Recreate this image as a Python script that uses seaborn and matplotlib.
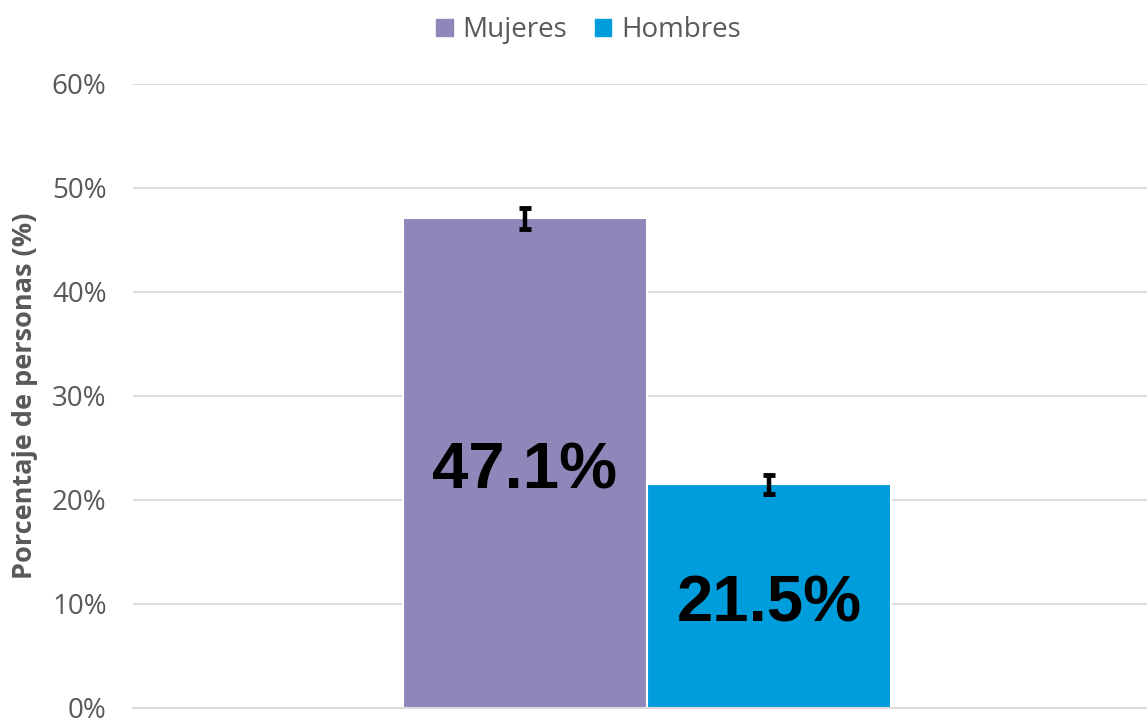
import pandas as pd
import matplotlib.pyplot as plt
import seaborn as sns
from matplotlib.ticker import FuncFormatter

# Datos
sexos = ["Mujeres", "Hombres"]
porcentajes = [47.1, 21.5]
errores = [1.0, 0.9]
colores = ["#8E88BA", "#009DDC"]

df = pd.DataFrame({"grupo": ["Total"] * len(sexos), "sexo": sexos, "pct": porcentajes})

sns.set_theme(style="white")
plt.rcParams["font.family"] = ["Open Sans", "DejaVu Sans"]
gris = "#595959"

fig = plt.figure(figsize=(11.47, 7.18), dpi=100)
ax = fig.add_axes([133 / 1147, 10 / 718, 1028 / 1147, 624 / 718])

sns.barplot(data=df, x="grupo", y="pct", hue="sexo", palette=colores,
            saturation=1, width=0.475, errorbar=None, edgecolor="white",
            linewidth=1.5, legend=False, ax=ax)

# barras de error y etiquetas centradas en cada barra
for barra, valor, err in zip(ax.patches, porcentajes, errores):
    xc = barra.get_x() + barra.get_width() / 2
    ax.errorbar(xc, valor, yerr=err, color="black", elinewidth=3.2,
                capsize=4.5, capthick=3.5)
    ax.annotate(f"{valor:.1f}%", (xc, valor / 2), xytext=(0, -6),
                textcoords="offset points", ha="center", va="center",
                fontsize=47, fontweight="bold", color="black",
                family=["Liberation Sans", "DejaVu Sans"])

ax.set_xlim(-0.5, 0.5)
ax.set_ylim(0, 60)
ax.set_yticks(range(0, 61, 10))
ax.yaxis.set_major_formatter(FuncFormatter(lambda v, p: f"{v:.0f}%"))
ax.tick_params(axis="y", labelsize=20, labelcolor=gris, length=0, pad=19)
ax.set_xticks([])
ax.set_xlabel("")
ax.set_ylabel("Porcentaje de personas (%)", fontsize=19.5, fontweight="bold",
              color=gris, labelpad=10)
ax.yaxis.grid(True, color="#D9D9D9", linewidth=1.3)
ax.set_axisbelow(True)
for lado in ["top", "right", "left"]:
    ax.spines[lado].set_visible(False)
ax.spines["bottom"].set_color("#D9D9D9")
ax.spines["bottom"].set_linewidth(1.3)

handles = [plt.Rectangle((0, 0), 1, 1, color=c) for c in colores]
fig.legend(handles, sexos, loc="upper center", bbox_to_anchor=(0.513, 1.012),
           ncol=2, frameon=False, fontsize=20, labelcolor=gris,
           handlelength=0.6, handleheight=0.6, handletextpad=0.35,
           columnspacing=1.0)

fig.savefig("out.png", dpi=100)
